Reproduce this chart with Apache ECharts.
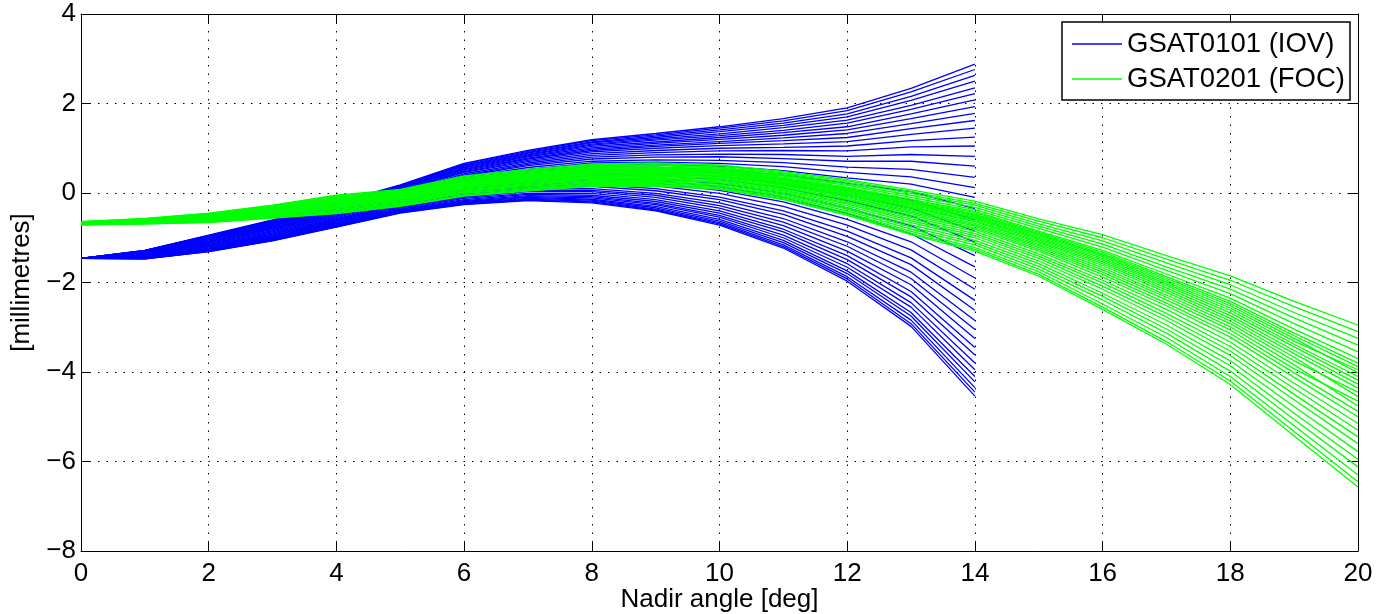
<!DOCTYPE html>
<html>
<head>
<meta charset="utf-8">
<script src="https://cdn.jsdelivr.net/npm/echarts@6/dist/echarts.min.js"></script>
<style>html,body{margin:0;padding:0;background:#fff}#c{width:1376px;height:614px}</style>
</head>
<body>
<div id="c"></div>
<script>
// Nadir angles (deg)
const blueAngles = [0,1,2,3,4,5,6,7,8,9,10,11,12,13,14];
const greenAngles = [0,1,2,3,4,5,6,7,8,9,10,11,12,13,14,15,16,17,18,19,20];
const xTicks = [0,2,4,6,8,10,12,14,16,18,20];
const yTicks = [-8,-6,-4,-2,0,2,4];
const seriesNames = ['GSAT0101 (IOV)', 'GSAT0201 (FOC)'];

// GSAT0101 (IOV): values of every curve at each nadir angle (bottom -> top)
const blue_x0 = [-1.46,-1.46,-1.46,-1.46,-1.46,-1.46,-1.46,-1.46,-1.46,-1.46,-1.46,-1.46,-1.46,-1.46,-1.46,-1.46,-1.46,-1.46,-1.46,-1.46,-1.46,-1.46,-1.46,-1.46,-1.46,-1.46,-1.46,-1.46,-1.46,-1.46,-1.46,-1.46,-1.46,-1.46,-1.46,-1.46,-1.46,-1.46,-1.46,-1.46];
const blue_x1 = [-1.47,-1.47,-1.47,-1.46,-1.46,-1.46,-1.45,-1.45,-1.44,-1.44,-1.43,-1.43,-1.42,-1.42,-1.41,-1.40,-1.40,-1.39,-1.38,-1.38,-1.37,-1.36,-1.36,-1.35,-1.35,-1.34,-1.33,-1.33,-1.32,-1.32,-1.31,-1.31,-1.30,-1.30,-1.30,-1.29,-1.29,-1.29,-1.28,-1.28];
const blue_x2 = [-1.31,-1.31,-1.30,-1.29,-1.29,-1.28,-1.27,-1.26,-1.26,-1.25,-1.24,-1.23,-1.21,-1.20,-1.19,-1.18,-1.17,-1.15,-1.14,-1.13,-1.11,-1.10,-1.09,-1.08,-1.07,-1.05,-1.04,-1.03,-1.02,-1.01,-1.00,-1.00,-0.99,-0.98,-0.97,-0.97,-0.96,-0.95,-0.95,-0.94];
const blue_x3 = [-1.07,-1.06,-1.06,-1.05,-1.04,-1.03,-1.02,-1.01,-1.00,-0.99,-0.98,-0.96,-0.95,-0.94,-0.92,-0.90,-0.89,-0.87,-0.85,-0.84,-0.82,-0.80,-0.79,-0.78,-0.76,-0.74,-0.73,-0.72,-0.70,-0.69,-0.68,-0.67,-0.66,-0.65,-0.64,-0.63,-0.62,-0.62,-0.61,-0.60];
const blue_x4 = [-0.76,-0.75,-0.75,-0.74,-0.73,-0.72,-0.71,-0.69,-0.68,-0.67,-0.65,-0.64,-0.62,-0.60,-0.59,-0.57,-0.55,-0.53,-0.51,-0.49,-0.47,-0.46,-0.44,-0.42,-0.40,-0.39,-0.37,-0.35,-0.34,-0.32,-0.31,-0.30,-0.29,-0.28,-0.27,-0.26,-0.25,-0.24,-0.23,-0.22];
const blue_x5 = [-0.45,-0.44,-0.43,-0.42,-0.41,-0.40,-0.39,-0.37,-0.36,-0.34,-0.32,-0.31,-0.29,-0.27,-0.25,-0.23,-0.20,-0.18,-0.16,-0.14,-0.11,-0.09,-0.07,-0.05,-0.04,-0.01,0.01,0.02,0.04,0.06,0.07,0.09,0.10,0.11,0.12,0.14,0.15,0.16,0.17,0.18];
const blue_x6 = [-0.26,-0.25,-0.24,-0.22,-0.21,-0.19,-0.17,-0.15,-0.12,-0.10,-0.08,-0.05,-0.02,0.00,0.04,0.07,0.10,0.13,0.17,0.20,0.23,0.26,0.29,0.32,0.35,0.38,0.40,0.43,0.46,0.48,0.50,0.52,0.54,0.56,0.58,0.60,0.61,0.63,0.65,0.66];
const blue_x7 = [-0.17,-0.16,-0.14,-0.12,-0.10,-0.08,-0.06,-0.03,-0.01,0.03,0.06,0.09,0.12,0.15,0.19,0.23,0.27,0.30,0.35,0.39,0.43,0.46,0.50,0.53,0.57,0.61,0.64,0.67,0.70,0.73,0.76,0.78,0.81,0.83,0.85,0.87,0.89,0.91,0.93,0.95];
const blue_x8 = [-0.22,-0.20,-0.18,-0.16,-0.14,-0.11,-0.08,-0.05,-0.01,0.03,0.06,0.10,0.15,0.19,0.23,0.28,0.33,0.38,0.43,0.48,0.53,0.58,0.62,0.67,0.71,0.76,0.80,0.84,0.88,0.92,0.95,0.98,1.01,1.04,1.07,1.09,1.12,1.14,1.17,1.19];
const blue_x9 = [-0.40,-0.38,-0.36,-0.33,-0.30,-0.26,-0.23,-0.19,-0.15,-0.10,-0.05,-0.01,0.05,0.10,0.16,0.22,0.28,0.33,0.40,0.46,0.52,0.58,0.64,0.69,0.74,0.80,0.85,0.90,0.95,1.00,1.04,1.07,1.11,1.14,1.18,1.21,1.24,1.27,1.30,1.33];
const blue_x10 = [-0.72,-0.69,-0.66,-0.63,-0.59,-0.54,-0.50,-0.45,-0.40,-0.34,-0.28,-0.22,-0.15,-0.09,-0.01,0.06,0.14,0.21,0.30,0.37,0.45,0.52,0.60,0.66,0.73,0.81,0.87,0.94,1.00,1.06,1.11,1.15,1.20,1.24,1.28,1.32,1.37,1.41,1.45,1.48];
const blue_x11 = [-1.23,-1.20,-1.16,-1.11,-1.06,-1.00,-0.94,-0.87,-0.81,-0.73,-0.65,-0.57,-0.48,-0.40,-0.30,-0.20,-0.10,-0.01,0.11,0.21,0.31,0.40,0.50,0.59,0.68,0.77,0.86,0.95,1.02,1.10,1.17,1.23,1.29,1.35,1.40,1.46,1.51,1.56,1.61,1.66];
const blue_x12 = [-1.97,-1.92,-1.87,-1.80,-1.74,-1.66,-1.58,-1.49,-1.40,-1.30,-1.19,-1.09,-0.97,-0.85,-0.72,-0.59,-0.46,-0.33,-0.17,-0.05,0.09,0.22,0.34,0.46,0.58,0.71,0.82,0.94,1.05,1.15,1.24,1.33,1.41,1.48,1.56,1.63,1.70,1.77,1.84,1.90];
const blue_x13 = [-2.98,-2.92,-2.84,-2.75,-2.67,-2.55,-2.45,-2.32,-2.20,-2.05,-1.91,-1.77,-1.60,-1.45,-1.27,-1.09,-0.91,-0.73,-0.51,-0.34,-0.16,0.03,0.20,0.36,0.53,0.71,0.86,1.03,1.17,1.31,1.44,1.55,1.66,1.77,1.87,1.96,2.07,2.16,2.26,2.34];
const blue_x14 = [-4.54,-4.45,-4.35,-4.22,-4.10,-3.95,-3.80,-3.62,-3.45,-3.25,-3.05,-2.85,-2.62,-2.40,-2.15,-1.90,-1.65,-1.40,-1.10,-0.85,-0.60,-0.35,-0.10,0.12,0.35,0.60,0.82,1.05,1.25,1.45,1.62,1.78,1.93,2.08,2.22,2.35,2.50,2.63,2.76,2.88];

// GSAT0201 (FOC): values of every curve at each nadir angle
const green_x0 = [-0.71,-0.71,-0.71,-0.70,-0.70,-0.70,-0.69,-0.69,-0.69,-0.68,-0.68,-0.68,-0.68,-0.67,-0.67,-0.67,-0.67,-0.67,-0.66,-0.66,-0.66,-0.66,-0.66,-0.66,-0.65,-0.65,-0.65,-0.65,-0.64,-0.64];
const green_x1 = [-0.69,-0.69,-0.68,-0.68,-0.67,-0.66,-0.66,-0.65,-0.65,-0.64,-0.64,-0.63,-0.63,-0.63,-0.62,-0.62,-0.62,-0.61,-0.61,-0.61,-0.61,-0.60,-0.60,-0.60,-0.60,-0.59,-0.59,-0.58,-0.58,-0.57];
const green_x2 = [-0.66,-0.65,-0.64,-0.63,-0.62,-0.61,-0.60,-0.60,-0.59,-0.58,-0.57,-0.56,-0.56,-0.55,-0.54,-0.54,-0.53,-0.53,-0.52,-0.52,-0.51,-0.51,-0.50,-0.50,-0.49,-0.49,-0.48,-0.47,-0.46,-0.45];
const green_x3 = [-0.56,-0.55,-0.54,-0.52,-0.51,-0.50,-0.48,-0.47,-0.46,-0.45,-0.43,-0.43,-0.42,-0.41,-0.40,-0.39,-0.38,-0.38,-0.37,-0.36,-0.36,-0.35,-0.35,-0.34,-0.33,-0.32,-0.31,-0.29,-0.28,-0.27];
const green_x4 = [-0.46,-0.45,-0.43,-0.41,-0.39,-0.37,-0.35,-0.33,-0.32,-0.30,-0.28,-0.27,-0.26,-0.24,-0.23,-0.22,-0.21,-0.20,-0.19,-0.18,-0.17,-0.16,-0.15,-0.15,-0.14,-0.12,-0.10,-0.08,-0.07,-0.05];
const green_x5 = [-0.30,-0.29,-0.27,-0.25,-0.24,-0.22,-0.20,-0.18,-0.17,-0.15,-0.14,-0.12,-0.11,-0.10,-0.09,-0.08,-0.07,-0.06,-0.05,-0.04,-0.03,-0.03,-0.02,-0.01,0.00,0.02,0.03,0.05,0.06,0.08];
const green_x6 = [-0.07,-0.06,-0.04,-0.01,0.01,0.03,0.05,0.07,0.09,0.11,0.13,0.14,0.16,0.17,0.18,0.19,0.21,0.22,0.23,0.24,0.25,0.26,0.26,0.27,0.29,0.31,0.32,0.34,0.36,0.38];
const green_x7 = [0.04,0.06,0.08,0.10,0.12,0.15,0.17,0.19,0.21,0.23,0.25,0.27,0.29,0.30,0.31,0.33,0.34,0.35,0.36,0.37,0.39,0.40,0.40,0.42,0.43,0.45,0.47,0.49,0.51,0.53];
const green_x8 = [0.15,0.17,0.19,0.21,0.24,0.26,0.28,0.31,0.33,0.35,0.37,0.38,0.40,0.42,0.43,0.44,0.46,0.47,0.48,0.49,0.50,0.51,0.52,0.53,0.55,0.57,0.59,0.61,0.63,0.65];
const green_x9 = [0.15,0.17,0.19,0.21,0.24,0.26,0.29,0.31,0.33,0.35,0.38,0.39,0.41,0.43,0.44,0.46,0.47,0.48,0.49,0.51,0.52,0.53,0.54,0.55,0.56,0.58,0.61,0.63,0.65,0.67];
const green_x10 = [0.08,0.10,0.12,0.15,0.17,0.20,0.23,0.25,0.27,0.30,0.32,0.34,0.36,0.37,0.39,0.40,0.42,0.43,0.44,0.46,0.47,0.48,0.49,0.50,0.52,0.54,0.56,0.58,0.61,0.63];
const green_x11 = [-0.15,-0.13,-0.10,-0.07,-0.04,-0.01,0.02,0.05,0.07,0.10,0.12,0.14,0.17,0.18,0.20,0.22,0.23,0.25,0.27,0.28,0.29,0.31,0.32,0.33,0.35,0.38,0.40,0.43,0.45,0.48];
const green_x12 = [-0.50,-0.47,-0.44,-0.40,-0.36,-0.33,-0.29,-0.25,-0.22,-0.19,-0.15,-0.13,-0.10,-0.08,-0.05,-0.03,-0.01,0.01,0.03,0.05,0.06,0.08,0.09,0.11,0.13,0.17,0.20,0.23,0.27,0.30];
const green_x13 = [-0.93,-0.90,-0.86,-0.81,-0.76,-0.71,-0.66,-0.62,-0.58,-0.54,-0.50,-0.46,-0.43,-0.40,-0.37,-0.34,-0.32,-0.30,-0.27,-0.25,-0.23,-0.21,-0.19,-0.17,-0.14,-0.10,-0.05,-0.01,0.03,0.07];
const green_x14 = [-1.30,-1.26,-1.22,-1.16,-1.11,-1.06,-1.00,-0.95,-0.91,-0.86,-0.81,-0.78,-0.74,-0.71,-0.68,-0.64,-0.62,-0.59,-0.56,-0.54,-0.51,-0.49,-0.47,-0.44,-0.41,-0.37,-0.32,-0.27,-0.23,-0.18];
const green_x15 = [-1.86,-1.82,-1.76,-1.70,-1.64,-1.58,-1.52,-1.46,-1.41,-1.36,-1.30,-1.26,-1.22,-1.18,-1.15,-1.11,-1.08,-1.05,-1.02,-0.99,-0.96,-0.93,-0.91,-0.88,-0.85,-0.79,-0.74,-0.69,-0.63,-0.58];
const green_x16 = [-2.60,-2.55,-2.48,-2.39,-2.31,-2.24,-2.15,-2.08,-2.01,-1.95,-1.88,-1.82,-1.77,-1.72,-1.67,-1.62,-1.58,-1.54,-1.50,-1.46,-1.42,-1.39,-1.36,-1.32,-1.28,-1.21,-1.14,-1.07,-1.00,-0.93];
const green_x17 = [-3.38,-3.32,-3.23,-3.13,-3.04,-2.95,-2.85,-2.77,-2.69,-2.60,-2.52,-2.46,-2.39,-2.33,-2.28,-2.22,-2.17,-2.12,-2.07,-2.03,-1.99,-1.95,-1.91,-1.87,-1.81,-1.73,-1.65,-1.56,-1.48,-1.40];
const green_x18 = [-4.28,-4.20,-4.10,-3.98,-3.86,-3.75,-3.63,-3.53,-3.43,-3.33,-3.22,-3.14,-3.06,-2.99,-2.92,-2.86,-2.80,-2.74,-2.68,-2.62,-2.57,-2.52,-2.47,-2.42,-2.35,-2.25,-2.15,-2.05,-1.95,-1.85];
const green_x19 = [-5.43,-5.33,-5.20,-5.06,-4.92,-4.77,-4.62,-4.50,-4.37,-4.25,-4.12,-4.02,-3.93,-3.84,-3.75,-3.67,-3.59,-3.52,-3.44,-3.38,-3.31,-3.25,-3.19,-3.13,-3.04,-2.92,-2.79,-2.67,-2.54,-2.42];
const green_x20 = [-6.57,-6.45,-6.30,-6.12,-5.95,-5.78,-5.60,-5.45,-5.30,-5.15,-5.00,-4.88,-4.65,-4.76,-4.45,-4.55,-4.36,-4.27,-4.18,-4.10,-3.95,-4.02,-3.88,-3.80,-3.70,-3.55,-3.40,-3.25,-3.10,-2.95];

const blueCols = [blue_x0,blue_x1,blue_x2,blue_x3,blue_x4,blue_x5,blue_x6,blue_x7,blue_x8,blue_x9,blue_x10,blue_x11,blue_x12,blue_x13,blue_x14];
const greenCols = [green_x0,green_x1,green_x2,green_x3,green_x4,green_x5,green_x6,green_x7,green_x8,green_x9,green_x10,green_x11,green_x12,green_x13,green_x14,green_x15,green_x16,green_x17,green_x18,green_x19,green_x20];

const FONT = "'Liberation Sans', Arial, Helvetica, sans-serif";
const BLUE = '#0000ff', GREEN = '#00ff00';

function buildSeries(cols, angles, name, color) {
  const n = Math.min.apply(null, cols.map(c => c.length));
  const out = [];
  for (let i = 0; i < n; i++) {
    out.push({
      type: 'line', name: name, symbol: 'none', showSymbol: false,
      silent: true, animation: false,
      lineStyle: { color: color, width: 1.3 },
      itemStyle: { color: color },
      data: angles.map((a, k) => [a, cols[k][i]])
    });
  }
  return out;
}

const series = buildSeries(blueCols, blueAngles, seriesNames[0], BLUE)
  .concat(buildSeries(greenCols, greenAngles, seriesNames[1], GREEN));

const minus = v => (v < 0 ? '\u2212' + Math.abs(v) : String(v));
const axisLineStyle = { show: true, onZero: false, lineStyle: { color: '#000', width: 1 } };
const tickStyle = { show: true, inside: true, length: 10, lineStyle: { color: '#000', width: 1 } };
const gridLine = { show: true, lineStyle: { color: '#000', width: 1, type: [1.5, 7] } };

const chart = echarts.init(document.getElementById('c'), null, { renderer: 'canvas' });
chart.setOption({
  backgroundColor: '#fff',
  animation: false,
  textStyle: { fontFamily: FONT },
  grid: { left: 81, top: 14, right: 18, bottom: 63, containLabel: false, outerBoundsMode: 'none' },
  legend: {
    data: seriesNames,
    orient: 'vertical',
    left: 1062, top: 22,
    padding: [8, 5, 7, 10],
    itemGap: 7, itemWidth: 50, itemHeight: 1.5,
    icon: 'rect',
    borderColor: '#000', borderWidth: 1.5,
    backgroundColor: '#fff',
    selectedMode: false,
    textStyle: { fontSize: 27.5, color: '#000', fontFamily: FONT, lineHeight: 24 }
  },
  xAxis: [{
    type: 'value', min: xTicks[0], max: xTicks[xTicks.length - 1], interval: xTicks[1] - xTicks[0],
    position: 'bottom',
    axisLine: axisLineStyle, axisTick: tickStyle,
    axisLabel: { color: '#000', fontSize: 26, margin: 10, fontFamily: FONT },
    splitLine: gridLine,
    name: 'Nadir angle [deg]', nameLocation: 'middle', nameGap: 36, nameMoveOverlap: false,
    nameTextStyle: { color: '#000', fontSize: 26, fontFamily: FONT }
  }, {
    type: 'value', min: xTicks[0], max: xTicks[xTicks.length - 1], interval: xTicks[1] - xTicks[0],
    position: 'top',
    axisLine: axisLineStyle, axisTick: tickStyle,
    axisLabel: { show: false }, splitLine: { show: false }
  }],
  yAxis: [{
    type: 'value', min: yTicks[0], max: yTicks[yTicks.length - 1], interval: yTicks[1] - yTicks[0],
    position: 'left',
    axisLine: axisLineStyle, axisTick: tickStyle,
    axisLabel: { color: '#000', fontSize: 26, margin: 5, fontFamily: FONT, formatter: minus },
    splitLine: gridLine,
    name: '[millimetres]', nameLocation: 'middle', nameGap: 46, nameRotate: 90,
    nameTextStyle: { color: '#000', fontSize: 26, fontFamily: FONT }
  }, {
    type: 'value', min: yTicks[0], max: yTicks[yTicks.length - 1], interval: yTicks[1] - yTicks[0],
    position: 'right',
    axisLine: axisLineStyle, axisTick: tickStyle,
    axisLabel: { show: false }, splitLine: { show: false }
  }],
  series: series
});
</script>
</body>
</html>
